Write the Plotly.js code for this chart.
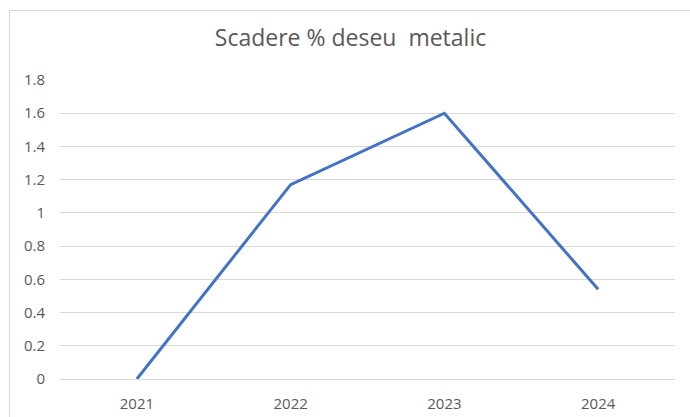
<!DOCTYPE html>
<html>
<head>
<meta charset="utf-8">
<script src="https://cdn.plot.ly/plotly-3.0.1.min.js"></script>
<style>
  html, body { margin: 0; padding: 0; background: #fff; }
  #wrap { position: relative; width: 690px; height: 417px; overflow: hidden; }
  #chart { position: absolute; left: 0; top: 0; width: 690px; height: 417px; }
  #frame { position: absolute; left: 9px; top: 10px; width: 700px; height: 420px;
           border: 1px solid #d9d9d9; pointer-events: none; box-sizing: border-box; }
</style>
</head>
<body>
<div id="wrap"><div id="chart"></div><div id="frame"></div></div>
<script>
const years = ['2021', '2022', '2023', '2024'];
const values = [0, 1.17, 1.60, 0.54];
const yTickVals = [0, 0.2, 0.4, 0.6, 0.8, 1, 1.2, 1.4, 1.6, 1.8];
const yTickText = ['0', '0.2', '0.4', '0.6', '0.8', '1', '1.2', '1.4', '1.6', '1.8'];
const chartTitle = 'Scadere % deseu  metalic';

const trace = {
  x: years,
  y: values,
  type: 'scatter',
  mode: 'lines',
  line: { color: '#4472C4', width: 3 },
  hoverinfo: 'x+y'
};

const layout = {
  width: 690,
  height: 417,
  margin: { l: 60, r: 15, t: 80, b: 38 },
  paper_bgcolor: 'rgba(0,0,0,0)',
  plot_bgcolor: 'rgba(0,0,0,0)',
  showlegend: false,
  title: {
    text: chartTitle.replace(/  /g, ' &nbsp;'),
    font: { family: 'Open Sans, sans-serif', size: 23, color: '#595959' },
    x: 0.508, xanchor: 'center',
    y: 0.91, yanchor: 'middle'
  },
  xaxis: {
    type: 'category',
    range: [-0.5, 3.5],
    showgrid: false,
    zeroline: false,
    showline: false,
    ticks: '',
    ticklabelstandoff: 14,
    tickfont: { family: 'Open Sans, sans-serif', size: 15, color: '#595959' }
  },
  yaxis: {
    range: [0, 1.8],
    tickvals: yTickVals,
    ticktext: yTickText,
    showgrid: true,
    gridcolor: '#d9d9d9',
    gridwidth: 1,
    zeroline: true,
    zerolinecolor: '#d9d9d9',
    zerolinewidth: 1,
    showline: false,
    ticks: '',
    ticklabelstandoff: 14,
    tickfont: { family: 'Open Sans, sans-serif', size: 15, color: '#595959' }
  }
};

Plotly.newPlot('chart', [trace], layout, { displayModeBar: false, staticPlot: true });
</script>
</body>
</html>
